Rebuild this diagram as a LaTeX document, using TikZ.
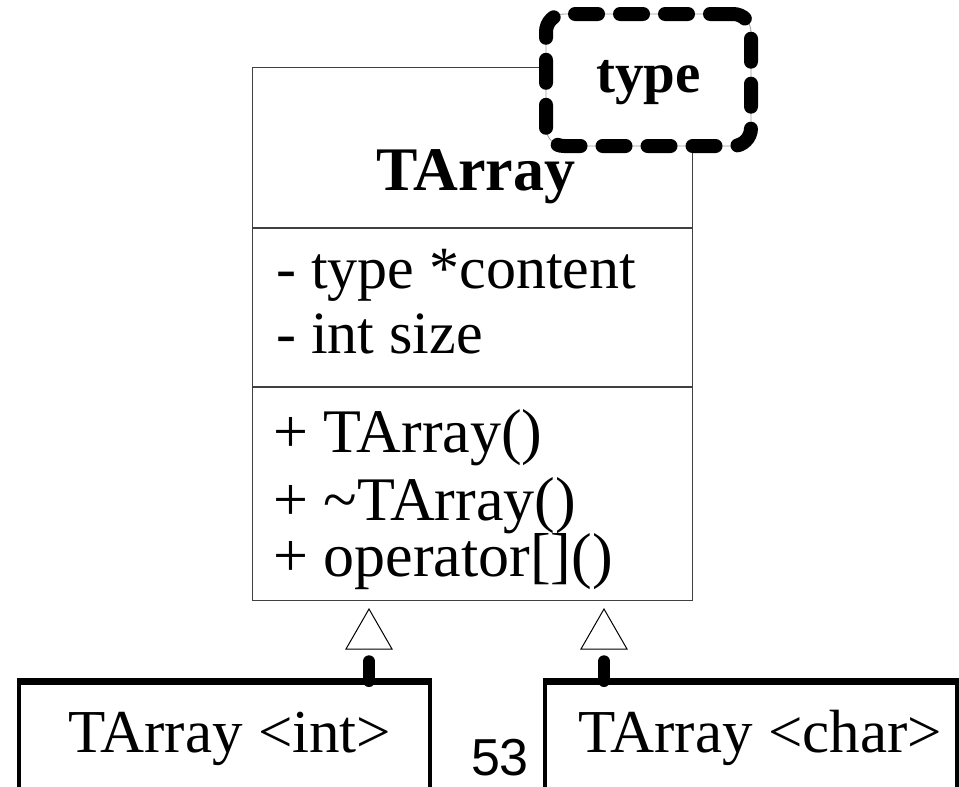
\documentclass[tikz,border=0pt]{standalone}
\usepackage{fontspec}
\setmainfont{Liberation Serif}
\newfontfamily\numfont{Liberation Sans}
\begin{document}
\begin{tikzpicture}[x=1pt,y=-1pt,
  classbox/.style={draw=black!75, line width=1.3pt, fill=white, inner sep=0pt, anchor=north west},
  childbox/.style={draw=black, line width=3.5pt, fill=white, inner sep=0pt, anchor=north west},
  member/.style={anchor=base west, inner sep=0pt, font=\fontsize{60}{60}\selectfont},
  method/.style={anchor=base west, inner sep=0pt, font=\fontsize{62}{62}\selectfont},
  childtext/.style={anchor=base west, inner sep=0pt, font=\fontsize{61}{61}\selectfont},
  typebox/.style={draw=black!40, line width=0.8pt, fill=white, rounded corners=18pt,
    minimum width=205pt, minimum height=132pt, inner sep=0pt,
    postaction={draw=black, line width=14pt, line cap=round, dash pattern=on 23pt off 22pt}},
  stub/.style={line width=12pt, line cap=round},
  gentri/.style={draw=black, line width=1pt, fill=white, line join=miter}
]
\useasboundingbox (0,0) rectangle (959,787);

% class TArray with its three compartments
\node[classbox, minimum width=440pt, minimum height=533pt] (tarray) at (251.5,67) {};
\draw[draw=black!75, line width=1.3pt] (tarray.west |- 0,228) -- (tarray.east |- 0,228);
\draw[draw=black!75, line width=1.3pt] (tarray.west |- 0,387) -- (tarray.east |- 0,387);

\node[anchor=base, inner sep=0pt, font=\fontsize{62}{62}\selectfont\bfseries] (tname) at (476,190) {TArray};

\node[member] (attr1) at (276,288) {- type *content};
\node[member] (attr2) at (276,353) {- int size};
\node[method] (op1) at (273,452) {+ TArray()};
\node[method] (op2) at (273,520) {+ \textasciitilde TArray()};
\node[method] (op3) at (273,576) {+ operator[]()};

% template parameter
\node[typebox] (tparam) at (648.5,80) {};
\node[anchor=base, inner sep=0pt, font=\fontsize{57}{57}\selectfont\bfseries] (tplabel) at (tparam.center |- 0,92) {type};

% bound classes
\node[childbox, minimum width=411pt, minimum height=140pt] (cint) at (17,681) {};
\node[childbox, minimum width=412pt, minimum height=140pt] (cchar) at (543,681) {};
\draw[line width=6pt] (cint.north west) -- (cint.north east);
\draw[line width=6pt] (cchar.north west) -- (cchar.north east);
\node[childtext] (lint) at (68,752) {TArray <int>};
\node[childtext] (lchar) at (578,752) {TArray <char>};

\node[anchor=base, inner sep=0pt, font=\numfont\fontsize{52}{52}\selectfont] (pnum) at (500,775) {53};

% generalisation connectors
\coordinate (tipA) at (369,609);
\coordinate (tipB) at (604,609);
\draw[stub, shorten >=60pt] (cint.north -| tipA) -- (tarray.south -| tipA);
\draw[stub, shorten >=60pt] (cchar.north -| tipB) -- (tarray.south -| tipB);
\draw[gentri] (tipA) -- ++(23,40) -- ++(-46,0) -- cycle;
\draw[gentri] (tipB) -- ++(23,40) -- ++(-46,0) -- cycle;
\end{tikzpicture}
\end{document}
